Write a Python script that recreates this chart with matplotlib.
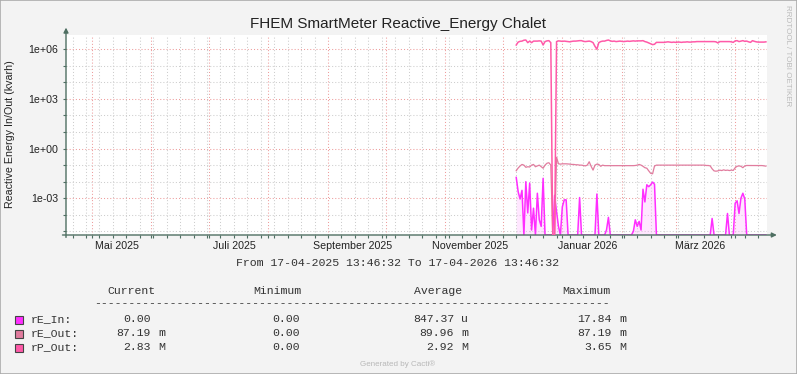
import numpy as np
import matplotlib
matplotlib.use("Agg")
import matplotlib.pyplot as plt
import matplotlib.dates as mdates
from matplotlib.ticker import FixedLocator, LogLocator, NullFormatter
from matplotlib.patches import Rectangle
from matplotlib.transforms import blended_transform_factory

# daily values from 2025-12-08 on
start_day = np.datetime64('2025-12-08')

re_in = [0.018, 0.0025, 0.0009, 0.003, 0, 0.01, 0.00013, 0.008, 0.000012, 0.00025,
         0, 0.002, 0.00005, 0.00002, 0.016, 0, 0, 0, 0, 0,
         0.0015, 0.00015, 0.00002, 0, 0.0003, 0.0008, 0.0008, 0, 0, 0,
         0, 0, 0, 0.0011, 0, 0, 0, 0, 0, 0,
         0, 0, 0.0018, 0, 0, 0, 0, 0.000012, 0.00007, 0,
         0, 0, 0, 0, 0, 0, 0, 0, 0, 0,
         0, 0.00001, 0.00005, 0.00002, 0.00004, 0.000012, 0.0035, 0.0006, 0.0065, 0.005,
         0.0065, 0.0095, 0.007, 0, 0, 0, 0, 0, 0, 0,
         0, 0, 0, 0, 0, 0, 0, 0, 0, 0,
         0, 0, 0, 0, 0, 0, 0, 0, 0, 0,
         0, 0, 0.00006, 0, 0, 0, 0, 0, 0, 0,
         0.00012, 0, 0, 0, 0.0005, 0.0007, 0.00012, 0.001, 0.002, 0.0009,
         0, 0, 0, 0, 0, 0, 0, 0, 0, 0,
         0]

re_out = [0.046, 0.067, 0.089, 0.11, 0.1, 0.074, 0.08, 0.077, 0.1, 0.11,
          0.08, 0.089, 0.1, 0.08, 0.065, 0.1, 0.13, 0.14, 0.1, 0,
          0, 0.3, 0.12, 0.115, 0.12, 0.12, 0.12, 0.118, 0.115, 0.11,
          0.11, 0.105, 0.105, 0.1, 0.1, 0.095, 0.09, 0.1, 0.16, 0.085,
          0.05, 0.1, 0.115, 0.11, 0.085, 0.1, 0.093, 0.093, 0.094, 0.093,
          0.093, 0.092, 0.093, 0.094, 0.093, 0.093, 0.092, 0.093, 0.093, 0.094,
          0.093, 0.093, 0.095, 0.1, 0.11, 0.1, 0.085, 0.07, 0.065, 0.045,
          0.032, 0.03, 0.088, 0.1, 0.1, 0.1, 0.1, 0.1, 0.1, 0.1,
          0.1, 0.1, 0.1, 0.1, 0.1, 0.1, 0.1, 0.1, 0.1, 0.1,
          0.1, 0.1, 0.1, 0.1, 0.1, 0.1, 0.1, 0.1, 0.1, 0.095,
          0.095, 0.09, 0.06, 0.045, 0.043, 0.045, 0.05, 0.047, 0.052, 0.048,
          0.05, 0.047, 0.05, 0.048, 0.07, 0.085, 0.09, 0.085, 0.07, 0.09,
          0.095, 0.095, 0.095, 0.096, 0.095, 0.094, 0.095, 0.095, 0.094, 0.09,
          0.087]

# rP_Out in millions
rp_out_m = [1.8, 2.7, 3.0, 3.1, 3.5, 3.6, 2.5, 3.1, 2.5, 3.1,
            3.1, 3.1, 3.2, 3.1, 1.8, 2.9, 3.2, 3.3, 2.5, 0,
            0, 2.9, 3.2, 3.1, 3.0, 3.1, 3.0, 2.9, 2.8, 3.0,
            3.1, 3.1, 3.2, 3.3, 3.3, 3.0, 2.9, 3.0, 3.1, 2.9,
            2.5, 1.5, 1.0, 2.5, 2.9, 3.1, 3.1, 3.4, 3.6, 3.2,
            3.0, 3.1, 2.9, 3.0, 3.1, 3.0, 2.9, 3.0, 3.1, 3.0,
            3.1, 3.2, 3.1, 3.2, 3.2, 3.2, 3.3, 2.9, 2.7, 2.4,
            2.1, 1.9, 2.0, 2.6, 2.6, 2.6, 2.6, 2.6, 2.7, 2.8,
            2.7, 2.6, 2.7, 2.6, 2.7, 2.7, 2.6, 2.7, 2.7, 2.8,
            2.7, 2.7, 2.8, 2.8, 2.9, 2.9, 2.9, 2.9, 2.9, 2.9,
            2.9, 2.9, 2.9, 2.9, 2.8, 2.4, 2.9, 2.9, 2.9, 2.9,
            2.9, 2.9, 2.8, 2.6, 3.2, 3.3, 2.9, 3.1, 3.3, 3.0,
            3.1, 2.8, 2.6, 3.3, 3.0, 2.8, 2.7, 2.7, 2.7, 2.7,
            2.8]

series_names = ['rE_In:', 'rE_Out:', 'rP_Out:']
series_colors = ['#FF2EFF', '#E17C9E', '#FF5AA8']
col_headers = ['Current', 'Minimum', 'Average', 'Maximum']
cur_vals = [('0.00', ''), ('87.19', 'm'), ('2.83', 'M')]
min_vals = [('0.00', ''), ('0.00', ''), ('0.00', '')]
avg_vals = [('847.37', 'u'), ('89.96', 'm'), ('2.92', 'M')]
max_vals = [('17.84', 'm'), ('87.19', 'm'), ('3.65', 'M')]

month_lbl_days = ['2025-05-01', '2025-07-01', '2025-09-01', '2025-11-01', '2026-01-01', '2026-03-01']
month_lbl_text = ['Mai 2025', 'Juli 2025', 'September 2025', 'November 2025', 'Januar 2026', 'März 2026']

t_start = np.datetime64('2025-04-17T13:46:32')
t_end = np.datetime64('2026-04-17T13:46:32')

W, H = 797, 374
def fx(px):
    return px / W
def fy(py):
    return 1 - py / H

sans = 'Liberation Sans'
mono = 'Liberation Mono'
axis_col = '#4F6F62'

fig = plt.figure(figsize=(W / 100, H / 100), dpi=100)
fig.patch.set_facecolor('#F3F3F3')
fig.add_artist(Rectangle((0, 0), 1, 1, transform=fig.transFigure, fill=False,
                         edgecolor='#ABABAB', lw=1.2))

ax = fig.add_axes([fx(66), fy(235), 701 / W, 200 / H])
ax.set_facecolor('white')

days = start_day + np.arange(len(re_in))
y_bottom = 10 ** -5.22
y_top = 10 ** 6.86

v_in = np.array(re_in)
v_eo = np.array(re_out)
v_po = np.array(rp_out_m) * 1e6

ax.fill_between(days, y_bottom, np.where(v_in > 0, v_in, y_bottom), color='#FFB0FF',
                alpha=0.3, lw=0, zorder=2)
ax.plot(days, np.where(v_in > 0, v_in, y_bottom), color=series_colors[0], lw=1.1, zorder=3)
ax.plot(days, np.where(v_eo > 0, v_eo, y_bottom), color=series_colors[1], lw=0.9, zorder=3)
ax.plot(days, np.where(v_po > 0, v_po, y_bottom), color=series_colors[2], lw=1.1, zorder=4)

ax.set_yscale('log')
ax.set_ylim(y_bottom, y_top)
ax.set_xlim(t_start, t_end)

ax.yaxis.set_major_locator(FixedLocator([1e-3, 1e0, 1e3, 1e6]))
ax.set_yticklabels(['1e-03', '1e+00', '1e+03', '1e+06'])
ax.yaxis.set_minor_locator(LogLocator(base=10, subs=(1.0,), numticks=30))
ax.yaxis.set_minor_formatter(NullFormatter())

ax.xaxis.set_major_locator(mdates.MonthLocator())
ax.xaxis.set_minor_locator(mdates.WeekdayLocator(byweekday=mdates.MO))
ax.tick_params(axis='x', which='both', labelbottom=False)

dots = (0, (1, 2))
ax.grid(which='minor', color='#CDCDCD', linestyle=dots, lw=0.75)
ax.grid(which='major', color='#EE9C9C', linestyle=dots, lw=0.75)
ax.set_axisbelow(True)

ax.tick_params(which='both', length=2, width=0.8, color=axis_col, direction='out')
ax.tick_params(axis='y', pad=3.5, labelsize=7.7, labelcolor='#222222')
for lbl in ax.get_yticklabels():
    lbl.set_family(sans)

for s in ax.spines.values():
    s.set_visible(False)

# axes with arrowheads
ax.annotate('', xy=(0, 1.037), xytext=(0, -0.012), xycoords='axes fraction',
            arrowprops=dict(arrowstyle='-|>', color=axis_col, lw=1, mutation_scale=7,
                            shrinkA=0, shrinkB=0), annotation_clip=False)
ax.annotate('', xy=(1.014, 0), xytext=(-0.005, 0), xycoords='axes fraction',
            arrowprops=dict(arrowstyle='-|>', color=axis_col, lw=1, mutation_scale=7,
                            shrinkA=0, shrinkB=0), annotation_clip=False)

# month labels
trans = blended_transform_factory(ax.transData, fig.transFigure)
for d, txt in zip(month_lbl_days, month_lbl_text):
    ax.text(np.datetime64(d) + np.timedelta64(13, 'D'), fy(249), txt, transform=trans,
            ha='center', va='baseline', fontsize=7.7, family=sans, color='#222222')

fig.text(fx(398.5), fy(28.3), 'FHEM SmartMeter Reactive_Energy Chalet', ha='center',
         va='baseline', fontsize=11, family=sans, color='#222222')
fig.text(fx(10.5), fy(134), 'Reactive Energy In/Out (kvarh)', rotation=90, ha='center',
         va='center', fontsize=7.7, family=sans, color='#222222')
fig.text(fx(787.5), fy(5), 'RRDTOOL / TOBI OETIKER', rotation=270, ha='center', va='top',
         fontsize=5.8, family=sans, color='#BBBBBB')
fig.text(fx(398), fy(266), 'From 17-04-2025 13:46:32 To 17-04-2026 13:46:32', ha='center',
         va='baseline', fontsize=8.25, family=mono, color='#333333')

# legend block
txt_col = '#333333'
for x0, hdr in zip([107, 253, 414, 562], col_headers):
    fig.text(fx(x0), fy(294), hdr, ha='left', va='baseline', fontsize=8.25,
             family=mono, color=txt_col)
fig.text(fx(94), fy(306.5), '-' * 75, ha='left', va='baseline', fontsize=8.25,
         family=mono, color=txt_col)

row_base = [321.7, 335.7, 349.7]
for r in range(3):
    yb = row_base[r]
    fig.add_artist(Rectangle((fx(15), fy(yb + 2.3)), 8 / W, 8 / H, transform=fig.transFigure,
                             facecolor=series_colors[r], edgecolor='#444444', lw=0.8))
    fig.text(fx(31), fy(yb), series_names[r], ha='left', va='baseline', fontsize=8.25,
             family=mono, color=txt_col)
    for x_num, vals in zip([151, 300, 454, 612], [cur_vals, min_vals, avg_vals, max_vals]):
        num, unit = vals[r]
        fig.text(fx(x_num), fy(yb), num, ha='right', va='baseline', fontsize=8.25,
                 family=mono, color=txt_col)
        if unit:
            fig.text(fx(x_num + 7), fy(yb), unit, ha='left', va='baseline', fontsize=8.25,
                     family=mono, color=txt_col)

fig.text(fx(398), fy(366), 'Generated by Cacti®', ha='center', va='baseline', fontsize=5.8,
         family=sans, color='#B8B8B8')

fig.savefig('out.png', dpi=100, facecolor=fig.get_facecolor())
